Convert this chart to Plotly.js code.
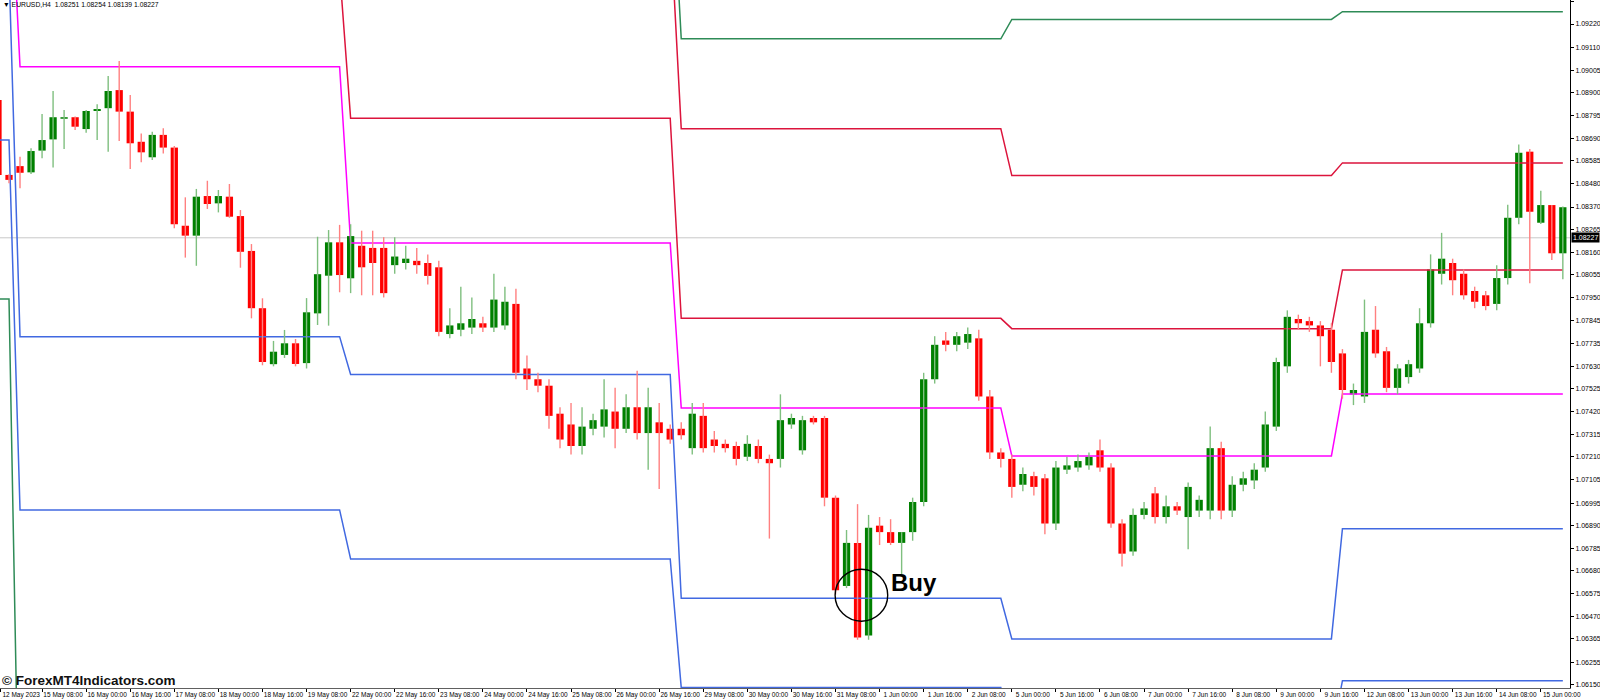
<!DOCTYPE html>
<html>
<head>
<meta charset="utf-8">
<script src="https://cdn.plot.ly/plotly-3.0.1.min.js"></script>
<style>
html,body{margin:0;padding:0;background:#fff;}
#chart{width:1600px;height:699px;}
</style>
</head>
<body>
<div id="chart"></div>
<script>
// ---- DATA (EURUSD H4, bar index -1 = 12 May 16:00 ... 141) ----
const firstBar = -1;
const opens = [
1.08867,1.08519,1.08560,1.08531,1.08632,1.08684,1.08780,1.08787,1.08732,1.08816,
1.08829,1.08913,1.08813,1.08673,1.08601,1.08705,1.08646,1.08283,1.08237,1.08421,
1.08387,1.08418,1.08328,1.08166,1.07900,1.07640,1.07683,1.07737,1.07645,1.07876,
1.08051,1.08206,1.08039,1.0819,1.0818,1.0818,1.0810,1.0811,1.0812,1.0811,
1.0809,1.0778,1.0780,1.0781,1.0783,1.0781,1.0782,1.0792,1.0762,1.0757,
1.0754,1.0741,1.0736,1.0726,1.0734,1.0735,1.0742,1.0734,1.0744,1.0732,
1.0737,1.0734,1.0734,1.0725,1.0740,1.0729,1.0727,1.0726,1.0721,1.0726,
1.0720,1.0720,1.0736,1.0724,1.0739,1.0739,1.0702,1.0661,1.0681,1.0638,
1.0689,1.0686,1.0681,1.0686,1.0700,1.0757,1.0775,1.0773,1.0774,1.0776,
1.0749,1.0723,1.0720,1.0708,1.0712,1.0711,1.0690,1.0715,1.0716,1.0717,
1.0724,1.0716,1.0690,1.0677,1.0694,1.0704,1.0693,1.0698,1.0693,1.0696,
1.0696,1.0725,1.0696,1.0708,1.0710,1.0716,1.0735,1.0763,1.0785,1.0784,
1.0782,1.0780,1.0769,1.0750,1.0749,1.0780,1.0770,1.0753,1.0758,1.0762,
1.0783,1.0806,1.0811,1.0806,1.0798,1.0796,1.0792,1.0804,1.0832,1.08627,
1.08297,1.08379,1.08155];
const highs = [
1.08880,1.08522,1.08604,1.08643,1.08802,1.08909,1.08821,1.08790,1.08821,1.08847,
1.08978,1.09048,1.08890,1.08712,1.08720,1.08736,1.08653,1.08415,1.08454,1.08492,
1.08449,1.08477,1.08356,1.08198,1.07946,1.07748,1.07799,1.07757,1.07947,1.08232,
1.08263,1.08287,1.0829,1.0826,1.0826,1.0823,1.0823,1.0819,1.0818,1.0815,
1.0812,1.0790,1.0800,1.0795,1.0786,1.0806,1.0800,1.0799,1.0768,1.0760,
1.0757,1.0744,1.0746,1.0744,1.0741,1.0757,1.0753,1.0750,1.0761,1.0753,
1.0746,1.0736,1.0737,1.0746,1.0746,1.0733,1.0729,1.0728,1.0731,1.0729,
1.0722,1.0750,1.0741,1.0740,1.0740,1.0740,1.0703,1.0687,1.0699,1.0694,
1.0693,1.0692,1.0686,1.0702,1.0760,1.0777,1.0779,1.0779,1.0781,1.0780,
1.0752,1.0725,1.0722,1.0716,1.0714,1.0713,1.0719,1.0721,1.0722,1.0723,
1.0729,1.0718,1.0692,1.0697,1.0700,1.0707,1.0703,1.0700,1.0709,1.0703,
1.0735,1.0728,1.0712,1.0714,1.0718,1.0742,1.0767,1.0789,1.0787,1.0786,
1.0784,1.0783,1.0771,1.0755,1.0794,1.0791,1.0772,1.0764,1.0766,1.0790,
1.0815,1.0825,1.0813,1.0808,1.0800,1.0798,1.0810,1.0838,1.0866,1.0864,
1.08446,1.08379,1.08372];
const lows = [
1.08500,1.08480,1.08457,1.08523,1.08596,1.08553,1.08639,1.08728,1.08715,1.08681,
1.08627,1.08677,1.08547,1.08578,1.08588,1.08619,1.08271,1.08135,1.08097,1.08361,
1.08345,1.08320,1.08088,1.07853,1.07635,1.07630,1.07669,1.07630,1.07620,1.07822,
1.07819,1.07974,1.0797,1.0796,1.0796,1.0795,1.0806,1.0808,1.0806,1.0801,
1.0777,1.0776,1.0777,1.0778,1.0779,1.0779,1.0780,1.0757,1.0752,1.0751,
1.0734,1.0725,1.0722,1.0722,1.0731,1.0730,1.0725,1.0732,1.0729,1.0715,
1.0706,1.0727,1.0729,1.0722,1.0723,1.0723,1.0723,1.0717,1.0719,1.0718,
1.0683,1.0716,1.0734,1.0722,1.0736,1.0698,1.0657,1.0660,1.0636,1.0636,
1.0680,1.0680,1.0666,1.0682,1.0698,1.0755,1.0770,1.0770,1.0771,1.0747,
1.0720,1.0716,1.0702,1.0705,1.0703,1.0685,1.0687,1.0713,1.0714,1.0715,
1.0714,1.0688,1.0670,1.0675,1.0692,1.0690,1.0690,1.0694,1.0678,1.0693,
1.0692,1.0692,1.0693,1.0705,1.0706,1.0714,1.0733,1.0760,1.0780,1.0779,
1.0763,1.0760,1.0748,1.0745,1.0746,1.0767,1.0751,1.0750,1.0755,1.0760,
1.0781,1.0801,1.0796,1.0794,1.0790,1.0789,1.0789,1.0801,1.0829,1.08016,
1.08291,1.08124,1.08034];
const closes = [
1.08519,1.08496,1.08529,1.08630,1.08681,1.08787,1.08787,1.08743,1.08816,1.08825,
1.08909,1.08813,1.08666,1.08624,1.08705,1.08646,1.08290,1.08237,1.08418,1.08384,
1.08421,1.08325,1.08162,1.07900,1.07650,1.07698,1.07737,1.07641,1.07881,1.08058,
1.08206,1.08054,1.08235,1.0809,1.0811,1.0797,1.0814,1.0813,1.0810,1.0805,
1.0779,1.0782,1.0783,1.0785,1.0781,1.0794,1.0793,1.0760,1.0757,1.0754,
1.0740,1.0729,1.0726,1.0735,1.0738,1.0743,1.0734,1.0744,1.0732,1.0744,
1.0732,1.0729,1.0731,1.0741,1.0725,1.0726,1.0725,1.0720,1.0727,1.0720,
1.0718,1.0738,1.0739,1.0738,1.0737,1.0702,1.0659,1.0681,1.0637,1.0688,
1.0686,1.0681,1.0686,1.0700,1.0757,1.0773,1.0773,1.0777,1.0778,1.0749,
1.0723,1.0720,1.0707,1.0713,1.0707,1.0690,1.0716,1.0717,1.0719,1.0721,
1.0716,1.0690,1.0676,1.0694,1.0697,1.0693,1.0698,1.0696,1.0707,1.0701,
1.0725,1.0696,1.0708,1.0711,1.0715,1.0736,1.0765,1.0786,1.0783,1.0782,
1.0777,1.0765,1.0752,1.0752,1.0779,1.0769,1.0753,1.0762,1.0764,1.0783,
1.0808,1.0813,1.0803,1.0796,1.0793,1.0791,1.0804,1.0832,1.08622,1.08348,
1.08379,1.08155,1.08369];

// weekly pivot levels (week starts at bar index)
const weekStart = [-1, 1, 31, 61, 91, 121];
const pivotR3 = [1.1170, 1.1120, 1.1010, 1.09151, 1.09241, 1.09277];
const pivotR2 = [1.1110, 1.1060, 1.0970, 1.08734, 1.08516, 1.08575];
const pivotR1 = [1.1060, 1.09469, 1.08782, 1.07853, 1.07805, 1.08078];
const pivotP  = [1.1004, 1.09022, 1.08203, 1.07437, 1.07214, 1.07502];
const pivotS1 = [1.0948, 1.07768, 1.07592, 1.06553, 1.06364, 1.06876];
const pivotS2 = [1.08681, 1.06963, 1.06735, 1.06138, 1.0590, 1.06170];
const pivotS3 = [1.07943, 1.0520, 1.0560, 1.0500, 1.0500, 1.0540];

// axis labels
const priceTicks = [1.09325,1.09220,1.09110,1.09005,1.08900,1.08795,1.08690,1.08585,1.08480,1.08370,
  1.08265,1.08160,1.08055,1.07950,1.07845,1.07735,1.07630,1.07525,1.07420,1.07315,1.07210,1.07105,
  1.06995,1.06890,1.06785,1.06680,1.06575,1.06470,1.06365,1.06255,1.06150];
const timeTickBars = [-0.8,3,7,11,15,19,23,27,31,35,39,43,47,51,55,59,63,67,71,75,79,83,87,91,95,99,103,107,111,115,119,123,127,131,135,139];
const timeTickLabels = ["12 May 2023","15 May 08:00","16 May 00:00","16 May 16:00","17 May 08:00","18 May 00:00","18 May 16:00",
  "19 May 08:00","22 May 00:00","22 May 16:00","23 May 08:00","24 May 00:00","24 May 16:00","25 May 08:00",
  "26 May 00:00","26 May 16:00","29 May 08:00","30 May 00:00","30 May 16:00","31 May 08:00","1 Jun 00:00",
  "1 Jun 16:00","2 Jun 08:00","5 Jun 00:00","5 Jun 16:00","6 Jun 08:00","7 Jun 00:00","7 Jun 16:00",
  "8 Jun 08:00","9 Jun 00:00","9 Jun 16:00","12 Jun 08:00","13 Jun 00:00","13 Jun 16:00","14 Jun 08:00","15 Jun 00:00"];
const bidPrice = 1.08227;
const headerText = "EURUSD,H4  1.08251 1.08254 1.08139 1.08227";

// ---- BUILD ----
const bars = opens.map((_, i) => firstBar + i);
function wickTrace(isUp, color){
  const x = [], y = [];
  bars.forEach((k, i) => {
    if ((closes[i] >= opens[i]) === isUp){ x.push(k, k, null); y.push(lows[i], highs[i], null); }
  });
  return {type:'scatter', mode:'lines', x, y, line:{color, width:1.4}, hoverinfo:'skip'};
}
function bodyTrace(isUp, color){
  const x = [], y = [], base = [];
  bars.forEach((k, i) => {
    if ((closes[i] >= opens[i]) === isUp){
      x.push(k);
      base.push(Math.min(opens[i], closes[i]));
      y.push(Math.max(Math.abs(closes[i] - opens[i]), 0.00004));
    }
  });
  return {type:'bar', x, y, base, width:0.66, marker:{color, line:{width:0}}, hoverinfo:'skip'};
}
function weekOf(k){ let w = 0; for (let j = 0; j < weekStart.length; j++){ if (k >= weekStart[j]) w = j; } return w; }
function pivotTrace(levels, color){
  return {type:'scatter', mode:'lines', x: bars, y: bars.map(k => levels[weekOf(k)]), line:{color, width:1.5}, hoverinfo:'skip'};
}

const traces = [
  pivotTrace(pivotR3, '#2e8b57'),
  pivotTrace(pivotR2, '#dc143c'),
  pivotTrace(pivotR1, '#dc143c'),
  pivotTrace(pivotP,  '#ff00ff'),
  pivotTrace(pivotS1, '#4169e1'),
  pivotTrace(pivotS2, '#4169e1'),
  pivotTrace(pivotS3, '#2e8b57'),
  wickTrace(true, '#7fbf7f'),
  wickTrace(false, '#ff8080'),
  bodyTrace(true, '#008000'),
  bodyTrace(false, '#ff0000')
];

const yTop = 1.093315, yBottom = 1.061360;
const fontAx = 'Tahoma, "Liberation Sans", Arial, sans-serif';

const layout = {
  width:1600, height:699,
  margin:{l:0, r:30, t:0, b:11, pad:0},
  paper_bgcolor:'#ffffff', plot_bgcolor:'#ffffff',
  showlegend:false,
  barmode:'overlay',
  xaxis:{
    range:[-0.817, 141.65], showgrid:false, zeroline:false,
    showline:true, linecolor:'#606060', linewidth:1,
    tickmode:'array', tickvals: timeTickBars, ticktext: timeTickLabels,
    ticks:'outside', ticklen:3, tickcolor:'#000', tickwidth:1,
    tickfont:{family:fontAx, size:6.5, color:'#000'},
    ticklabelshift:21, ticklabelstandoff:-3, tickangle:0, automargin:false
  },
  yaxis:{
    side:'right', range:[yBottom, yTop], showgrid:false, zeroline:false,
    showline:true, linecolor:'#000', linewidth:1,
    tickmode:'array', tickvals: priceTicks, ticktext: priceTicks.map(v => v.toFixed(5)),
    ticks:'outside', ticklen:3, tickcolor:'#000', tickwidth:1,
    tickfont:{family:fontAx, size:7, color:'#000'}, automargin:false
  },
  shapes:[
    {type:'line', xref:'paper', x0:0, x1:1, yref:'y', y0:bidPrice, y1:bidPrice, line:{color:'#c8c8c8', width:1}, layer:'below'},
    {type:'circle', xref:'x', yref:'y', xsizemode:'pixel', ysizemode:'pixel', xanchor:77.35, yanchor:1.06567,
     x0:-26.3, x1:26.3, y0:-26, y1:26, line:{color:'#000', width:1.4}, layer:'above'}
  ],
  annotations:[
    {xref:'paper', yref:'paper', x:0, y:1, xanchor:'left', yanchor:'top', showarrow:false,
     text:'\u25BC\u00a0' + headerText.replace(/ /g,'\u00a0'), font:{family:fontAx, size:6.8, color:'#000'}, xshift:1, yshift:1},
    {xref:'paper', yref:'paper', x:0, y:0, xanchor:'left', yanchor:'bottom', showarrow:false,
     text:'<b>\u00a9 ForexMT4Indicators.com</b>', font:{family:'"Liberation Sans", Arial, sans-serif', size:13.5, color:'#111'}, yshift:-2},
    {xref:'x', yref:'y', x:80.1, y:1.06607, xanchor:'left', yanchor:'middle', showarrow:false,
     text:'<b>Buy</b>', font:{family:'"Liberation Sans", Arial, sans-serif', size:24, color:'#000'}, xshift:-3, yshift:4},
    {xref:'paper', yref:'y', x:1, y:bidPrice, xanchor:'left', yanchor:'middle', showarrow:false,
     text:bidPrice.toFixed(5), bgcolor:'#000', font:{family:fontAx, size:7, color:'#fff'}, borderpad:1, xshift:1}
  ]
};

Plotly.newPlot('chart', traces, layout, {staticPlot:true, displayModeBar:false});
</script>
</body>
</html>
